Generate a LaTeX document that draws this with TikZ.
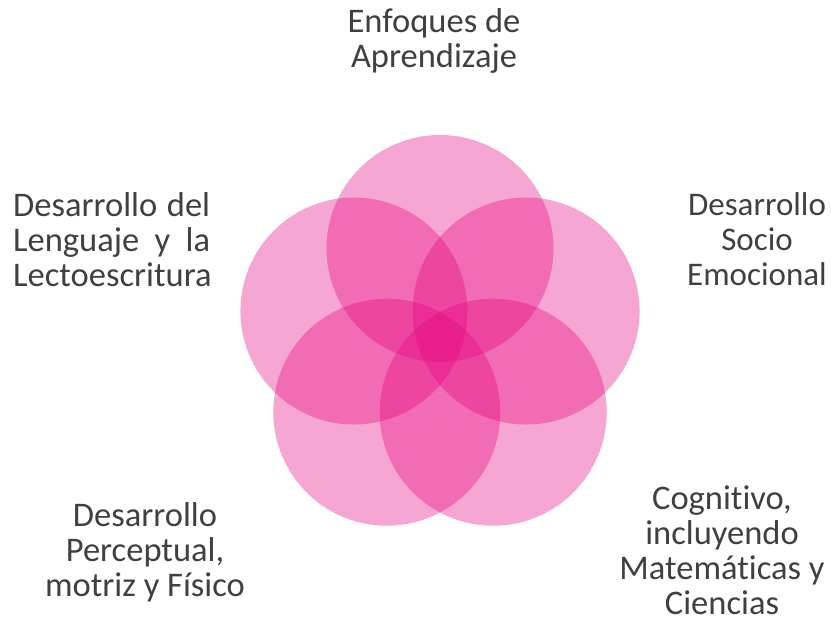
\documentclass[tikz,border=0pt]{standalone}
\usepackage{fontspec}
\setmainfont{Carlito}[RawFeature={-liga}]
\usepackage{tikz}
\usetikzlibrary{calc}

\definecolor{blatt}{RGB}{230,0,126}
\definecolor{schrift}{RGB}{64,64,64}

\tikzset{
    kreis/.style = {fill = blatt, fill opacity = 0.35},
    beschriftung/.style = {text = schrift, inner sep = 0pt, align = center, anchor = base,
        font = \fontsize{34.5}{35}\selectfont}
}

\begin{document}
\begin{tikzpicture}[x = 1pt, y = 1pt]
    \useasboundingbox (0,0) rectangle (831,624);

        \coordinate (mitte) at (440,285);
        \pgfmathsetmacro\rAbst{90.5}
        \pgfmathsetmacro\rKreis{113.5}

        \fill[kreis] ($(mitte)+(90:\rAbst)$) circle (\rKreis);
        \fill[kreis] ($(mitte)+(18:\rAbst)$) circle (\rKreis);
        \fill[kreis] ($(mitte)+(-54:\rAbst)$) circle (\rKreis);
        \fill[kreis] ($(mitte)+(-126:\rAbst)$) circle (\rKreis);
        \fill[kreis] ($(mitte)+(162:\rAbst)$) circle (\rKreis);

    % Grundlinie der letzten Zeile
    \node[beschriftung] (enfoques) at (434,556) {Enfoques de\\Aprendizaje};
    \node[beschriftung, font = \fontsize{33}{35}\selectfont] (socio) at (757,338) {Desarrollo\\Socio\\Emocional};
    \node[beschriftung] (cognitivo) at (722,9) {Cognitivo,\\incluyendo\\Matemáticas y\\Ciencias};
    \node[beschriftung] (perceptual) at (145,27) {Desarrollo\\Perceptual,\\motriz y Físico};
    \node[beschriftung, align = left, anchor = base west] (lenguaje) at (13,337)
        {\makebox[197pt][s]{Desarrollo del}\\\makebox[197pt][s]{Lenguaje y la}\\Lectoescritura};
\end{tikzpicture}
\end{document}
